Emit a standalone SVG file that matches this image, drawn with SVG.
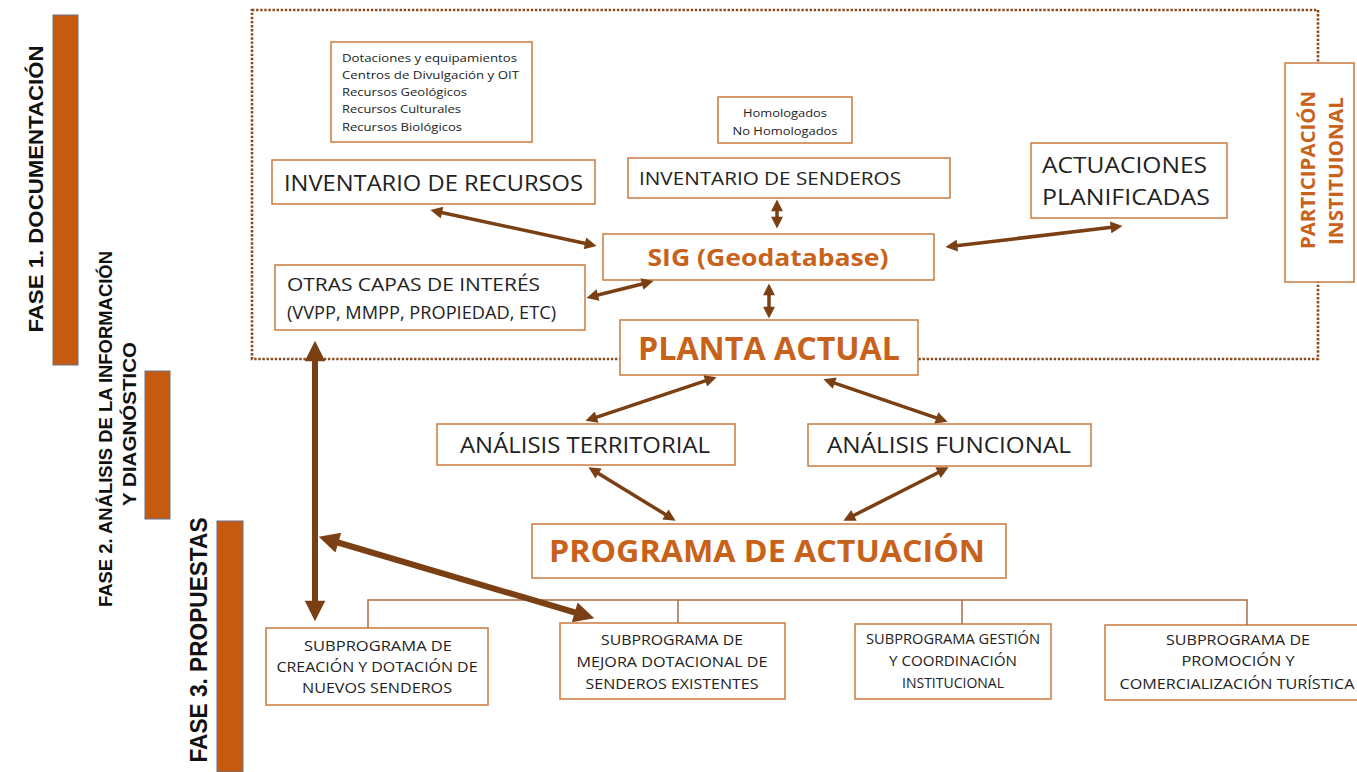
<svg xmlns="http://www.w3.org/2000/svg" width="1357" height="772" viewBox="0 0 1357 772">
<style>
.box{fill:#fff;stroke:#c97a3e;stroke-width:1.5}
.t{font-family:"Open Sans","Liberation Sans",sans-serif;fill:#222}
.o{font-family:"Open Sans","Liberation Sans",sans-serif;font-weight:bold;fill:#c8621a}
.ph{font-family:"Liberation Sans",sans-serif;font-weight:bold;fill:#111}
.bar{fill:#c55a11;stroke:#66708c;stroke-width:1}
.arr{stroke:#7b3f14;stroke-width:3.5;fill:none;marker-start:url(#ah);marker-end:url(#ah)}
.thick{stroke-width:6}
.tree{stroke:#a86f45;stroke-width:1.5;fill:none}
</style>
<defs>
<marker id="ah" viewBox="0 0 10 10" refX="4.5" refY="5" markerWidth="4" markerHeight="3.4" orient="auto-start-reverse" markerUnits="strokeWidth">
<path d="M0,0 L10,5 L0,10 z" fill="#7b3f14"/>
</marker>
</defs>
<rect width="1357" height="772" fill="#fff"/>

<g id="phases">
<rect class="bar" x="53" y="15" width="25" height="350"/>
<rect class="bar" x="145" y="371" width="25" height="148"/>
<rect class="bar" x="217" y="521" width="26" height="251"/>
<text class="ph" font-size="21" text-anchor="middle" transform="translate(43,189) rotate(-90)" textLength="287" lengthAdjust="spacingAndGlyphs">FASE 1. DOCUMENTACIÓN</text>
<text class="ph" font-size="19" text-anchor="middle" transform="translate(112,429) rotate(-90)" textLength="356" lengthAdjust="spacingAndGlyphs">FASE 2. ANÁLISIS DE LA INFORMACIÓN</text>
<text class="ph" font-size="19" text-anchor="middle" transform="translate(136,424) rotate(-90)" textLength="164" lengthAdjust="spacingAndGlyphs">Y DIAGNÓSTICO</text>
<text class="ph" font-size="23" text-anchor="middle" transform="translate(207,640) rotate(-90)" textLength="245" lengthAdjust="spacingAndGlyphs">FASE 3. PROPUESTAS</text>
</g>

<g id="frame">
<rect x="252" y="10" width="1066" height="349" fill="none" stroke="#8a4a1c" stroke-width="2.6" stroke-dasharray="2.4,1.7"/>
</g>

<g id="participacion">
<rect class="box" x="1285" y="63" width="69" height="219"/>
<text class="o" font-size="19" text-anchor="middle" transform="translate(1315,170) rotate(-90)" textLength="158" lengthAdjust="spacingAndGlyphs">PARTICIPACIÓN</text>
<text class="o" font-size="19" text-anchor="middle" transform="translate(1343,171) rotate(-90)" textLength="148" lengthAdjust="spacingAndGlyphs">INSTITUIONAL</text>
</g>

<g id="recursos-list">
<rect class="box" x="331" y="42" width="201" height="100"/>
<text class="t" font-size="11" x="342" y="62" textLength="175" lengthAdjust="spacingAndGlyphs">Dotaciones y equipamientos</text>
<text class="t" font-size="11" x="342" y="79" textLength="177" lengthAdjust="spacingAndGlyphs">Centros de Divulgación y OIT</text>
<text class="t" font-size="11" x="342" y="96" textLength="125" lengthAdjust="spacingAndGlyphs">Recursos Geológicos</text>
<text class="t" font-size="11" x="342" y="113" textLength="119" lengthAdjust="spacingAndGlyphs">Recursos Culturales</text>
<text class="t" font-size="11" x="342" y="131" textLength="120" lengthAdjust="spacingAndGlyphs">Recursos Biológicos</text>
</g>

<g id="homologados">
<rect class="box" x="718" y="97" width="134" height="46"/>
<text class="t" font-size="11" x="785" y="117" text-anchor="middle" textLength="84" lengthAdjust="spacingAndGlyphs">Homologados</text>
<text class="t" font-size="11" x="785" y="135" text-anchor="middle" textLength="105" lengthAdjust="spacingAndGlyphs">No Homologados</text>
</g>

<g id="inv-recursos">
<rect class="box" x="272" y="160" width="323" height="44"/>
<text class="t" font-size="21" x="284" y="191" textLength="299" lengthAdjust="spacingAndGlyphs">INVENTARIO DE RECURSOS</text>
</g>

<g id="inv-senderos">
<rect class="box" x="628" y="158" width="322" height="40"/>
<text class="t" font-size="18" x="639" y="185" textLength="262" lengthAdjust="spacingAndGlyphs">INVENTARIO DE SENDEROS</text>
</g>

<g id="actuaciones">
<rect class="box" x="1031" y="143" width="196" height="75"/>
<text class="t" font-size="22" x="1042" y="173" textLength="165" lengthAdjust="spacingAndGlyphs">ACTUACIONES</text>
<text class="t" font-size="22" x="1042" y="205" textLength="168" lengthAdjust="spacingAndGlyphs">PLANIFICADAS</text>
</g>

<g id="sig">
<rect class="box" x="603" y="234" width="331" height="46"/>
<text class="o" font-size="24" x="768" y="266" text-anchor="middle" textLength="241" lengthAdjust="spacingAndGlyphs">SIG (Geodatabase)</text>
</g>

<g id="otras-capas">
<rect class="box" x="275" y="265" width="310" height="65"/>
<text class="t" font-size="19" x="287" y="291" textLength="253" lengthAdjust="spacingAndGlyphs">OTRAS CAPAS DE INTERÉS</text>
<text class="t" font-size="19" x="287" y="319" textLength="269" lengthAdjust="spacingAndGlyphs">(VVPP, MMPP, PROPIEDAD, ETC)</text>
</g>

<g id="planta">
<rect class="box" x="620" y="320" width="298" height="55"/>
<text class="o" font-size="32" x="769" y="360" text-anchor="middle" textLength="262" lengthAdjust="spacingAndGlyphs">PLANTA ACTUAL</text>
</g>

<g id="territorial">
<rect class="box" x="437" y="424" width="298" height="41"/>
<text class="t" font-size="21" x="585" y="453" text-anchor="middle" textLength="250" lengthAdjust="spacingAndGlyphs">ANÁLISIS TERRITORIAL</text>
</g>

<g id="funcional">
<rect class="box" x="808" y="424" width="283" height="42"/>
<text class="t" font-size="21" x="949" y="453" text-anchor="middle" textLength="244" lengthAdjust="spacingAndGlyphs">ANÁLISIS FUNCIONAL</text>
</g>

<g id="programa">
<rect class="box" x="532" y="524" width="474" height="54"/>
<text class="o" font-size="31" x="767" y="562" text-anchor="middle" textLength="436" lengthAdjust="spacingAndGlyphs">PROGRAMA DE ACTUACIÓN</text>
</g>

<g id="sub1">
<rect class="box" x="266" y="628" width="222" height="77"/>
<text class="t" font-size="14" x="378" y="651" text-anchor="middle" textLength="148" lengthAdjust="spacingAndGlyphs">SUBPROGRAMA DE</text>
<text class="t" font-size="14" x="377" y="672" text-anchor="middle" textLength="201" lengthAdjust="spacingAndGlyphs">CREACIÓN Y DOTACIÓN DE</text>
<text class="t" font-size="14" x="377" y="693" text-anchor="middle" textLength="150" lengthAdjust="spacingAndGlyphs">NUEVOS SENDEROS</text>
</g>

<g id="sub2">
<rect class="box" x="560" y="623" width="225" height="76"/>
<text class="t" font-size="14" x="672" y="645" text-anchor="middle" textLength="142" lengthAdjust="spacingAndGlyphs">SUBPROGRAMA DE</text>
<text class="t" font-size="14" x="672" y="667" text-anchor="middle" textLength="191" lengthAdjust="spacingAndGlyphs">MEJORA DOTACIONAL DE</text>
<text class="t" font-size="14" x="672" y="689" text-anchor="middle" textLength="173" lengthAdjust="spacingAndGlyphs">SENDEROS EXISTENTES</text>
</g>

<g id="sub3">
<rect class="box" x="855" y="624" width="196" height="75"/>
<text class="t" font-size="14" x="953" y="644" text-anchor="middle" textLength="174" lengthAdjust="spacingAndGlyphs">SUBPROGRAMA GESTIÓN</text>
<text class="t" font-size="14" x="953" y="666" text-anchor="middle" textLength="128" lengthAdjust="spacingAndGlyphs">Y COORDINACIÓN</text>
<text class="t" font-size="14" x="953" y="688" text-anchor="middle" textLength="102" lengthAdjust="spacingAndGlyphs">INSTITUCIONAL</text>
</g>

<g id="sub4">
<rect class="box" x="1105" y="625" width="254" height="75"/>
<text class="t" font-size="14" x="1238" y="645" text-anchor="middle" textLength="144" lengthAdjust="spacingAndGlyphs">SUBPROGRAMA DE</text>
<text class="t" font-size="14" x="1238" y="666" text-anchor="middle" textLength="113" lengthAdjust="spacingAndGlyphs">PROMOCIÓN Y</text>
<text class="t" font-size="14" x="1237" y="689" text-anchor="middle" textLength="235" lengthAdjust="spacingAndGlyphs">COMERCIALIZACIÓN TURÍSTICA</text>
</g>

<g id="connectors">
<path class="tree" d="M368,628 V600 H1247 V625 M678,600 V623 M962,600 V624"/>
<line class="arr" x1="436.8" y1="211.5" x2="590.2" y2="244.5"/>
<line class="arr" x1="777" y1="206" x2="777" y2="222"/>
<line class="arr" x1="952" y1="246.2" x2="1116" y2="226.8"/>
<line class="arr" x1="647.2" y1="282.7" x2="592.8" y2="296.3"/>
<line class="arr" x1="769" y1="290" x2="769" y2="312"/>
<line class="arr" x1="710.4" y1="379.2" x2="591.6" y2="418.8"/>
<line class="arr" x1="829.6" y1="381.3" x2="941.4" y2="419.7"/>
<line class="arr" x1="594" y1="470.7" x2="670" y2="517.3"/>
<line class="arr" x1="942.8" y1="470.2" x2="849.2" y2="517.8"/>
<line class="arr thick" x1="315" y1="352" x2="315" y2="610"/>
<line class="arr thick" x1="329.5" y1="540" x2="583.5" y2="615"/>
</g>
</svg>
